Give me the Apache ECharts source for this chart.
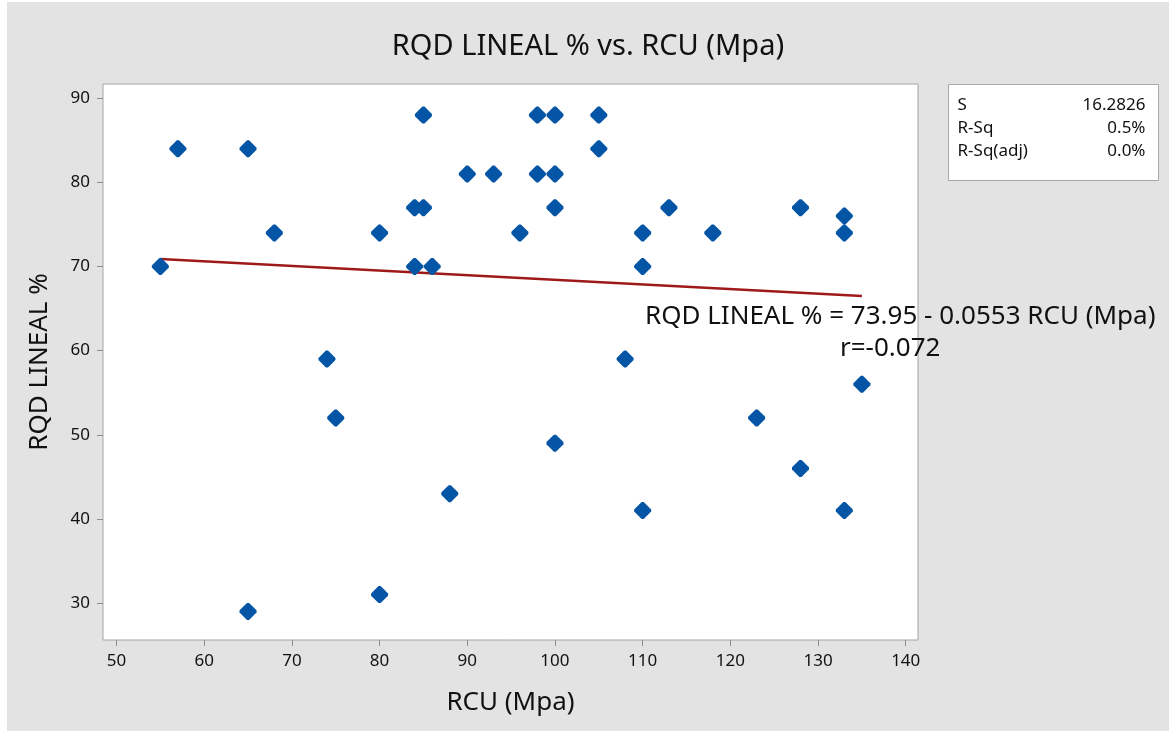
<!DOCTYPE html>
<html>
<head>
<meta charset="utf-8">
<script src="https://cdn.jsdelivr.net/npm/echarts@6/dist/echarts.min.js"></script>
<style>
  html, body { margin: 0; padding: 0; background: #ffffff; }
  #wrap { position: absolute; left: 0; top: 0; width: 1169px; height: 733px; background: #ffffff; }
  #chart { position: absolute; left: 7px; top: 2px; width: 1162px; height: 729px; background: #e3e3e3; }
</style>
</head>
<body>
<div id="wrap"><div id="chart"></div></div>
<script>
// ---- data ----
const rcu = [55, 57, 65, 65, 68, 74, 75, 80, 80, 84, 85, 85, 84, 86, 88, 90, 93, 96, 98, 100,
             98, 100, 100, 100, 105, 105, 108, 110, 110, 110, 113, 118, 123, 128, 128, 133, 133, 133, 135];
const rqd = [70, 84, 84, 29, 74, 59, 52, 74, 31, 77, 77, 88, 70, 70, 43, 81, 81, 74, 88, 88,
             81, 81, 77, 49, 88, 84, 59, 74, 70, 41, 77, 74, 52, 77, 46, 76, 74, 41, 56];
const fitIntercept = 73.95;
const fitSlope = -0.0553;
const fitRange = [55, 135];
const xTicks = [50, 60, 70, 80, 90, 100, 110, 120, 130, 140];
const yTicks = [30, 40, 50, 60, 70, 80, 90];
const statLabels = ['S', 'R-Sq', 'R-Sq(adj)'];
const statValues = ['16.2826', '0.5%', '0.0%'];
const titleText = 'RQD LINEAL % vs. RCU (Mpa)';
const xName = 'RCU (Mpa)';
const yName = 'RQD LINEAL %';
const eqText = 'RQD LINEAL % = 73.95 - 0.0553 RCU (Mpa)';
const rText = 'r=-0.072';

const points = rcu.map((x, i) => [x, rqd[i]]);
const fitLine = fitRange.map(x => [x, fitIntercept + fitSlope * x]);

const FONT = '"Noto Sans", "Open Sans", sans-serif';
const chart = echarts.init(document.getElementById('chart'));

const statChildren = [{
  type: 'rect', shape: { x: 0, y: 0, width: 210, height: 96 },
  style: { fill: '#ffffff', stroke: '#a8a8a8', lineWidth: 1 }
}];
statLabels.forEach((l, i) => {
  statChildren.push({ type: 'text', x: 9, y: 21 + i * 23,
    style: { text: l, font: '17px ' + FONT, fill: '#111111', textVerticalAlign: 'middle' } });
  statChildren.push({ type: 'text', x: 197, y: 21 + i * 23,
    style: { text: statValues[i], font: '17px ' + FONT, fill: '#111111', textAlign: 'right', textVerticalAlign: 'middle' } });
});

chart.setOption({
  backgroundColor: '#e3e3e3',
  animation: false,
  title: {
    text: titleText, left: 'center', top: 25,
    textStyle: { fontFamily: FONT, fontSize: 29, fontWeight: 'normal', color: '#111111' }
  },
  grid: {
    left: 96, top: 82, right: 251, bottom: 91,
    show: true, backgroundColor: '#ffffff', borderColor: '#a3a3a3', borderWidth: 1
  },
  xAxis: {
    type: 'value', min: 48.46, max: 141.4,
    name: xName, nameLocation: 'middle', nameGap: 50,
    nameTextStyle: { fontFamily: FONT, fontSize: 26, color: '#111111' },
    axisLine: { show: false },
    axisTick: { show: true, length: 6, lineStyle: { color: '#8c8c8c' }, customValues: xTicks },
    axisLabel: { customValues: xTicks, fontFamily: FONT, fontSize: 17, color: '#111111', margin: 13 },
    splitLine: { show: false }
  },
  yAxis: {
    type: 'value', min: 25.6, max: 91.7,
    name: yName, nameLocation: 'middle', nameGap: 50, nameRotate: 90,
    nameTextStyle: { fontFamily: FONT, fontSize: 26, color: '#111111' },
    axisLine: { show: false },
    axisTick: { show: true, length: 6, lineStyle: { color: '#8c8c8c' }, customValues: yTicks },
    axisLabel: { customValues: yTicks, fontFamily: FONT, fontSize: 17, color: '#111111', margin: 13 },
    splitLine: { show: false }
  },
  graphic: [
    { type: 'group', left: 941, top: 82, children: statChildren },
    { type: 'text', left: 638, top: 302,
      style: { text: eqText, font: '26px ' + FONT, fill: '#111111' } },
    { type: 'text', left: 833, top: 334,
      style: { text: rText, font: '26px ' + FONT, fill: '#111111' } }
  ],
  series: [
    {
      type: 'line', data: fitLine, symbol: 'none', silent: true, z: 1,
      lineStyle: { color: '#9e1a1a', width: 2.5 }
    },
    {
      type: 'scatter', data: points, z: 2,
      symbol: 'path://M7,0 L9,0 L16,7 L16,9 L9,16 L7,16 L0,9 L0,7 Z',
      symbolSize: [17, 17],
      itemStyle: { color: '#0455a5', opacity: 1 }
    }
  ]
});
</script>
</body>
</html>
